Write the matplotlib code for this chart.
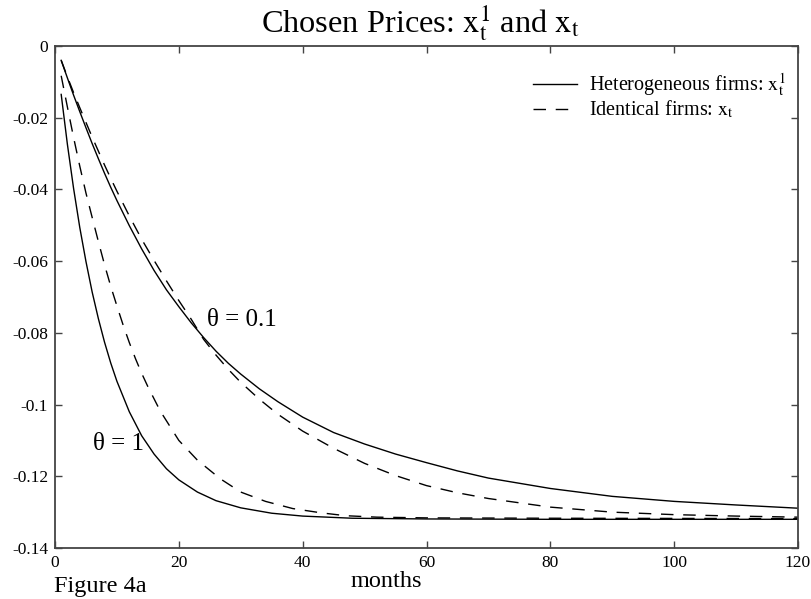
import numpy as np
import matplotlib
matplotlib.use('Agg')
import matplotlib.pyplot as plt

plt.rcParams['font.family'] = ['Liberation Serif', 'DejaVu Serif']
plt.rcParams['mathtext.fontset'] = 'stix'
plt.rcParams['axes.unicode_minus'] = False
plt.rcParams['lines.scale_dashes'] = False

# heterogeneous firms, theta = 0.1 (solid)
t_het01 = [1, 2, 3, 4, 5, 6, 7, 8, 9, 10, 12, 14, 16, 18, 20, 22, 24, 26, 28, 30,
           33, 36, 40, 45, 50, 55, 60, 65, 70, 80, 90, 100, 110, 120]
x_het01 = [-0.0040, -0.0089, -0.0137, -0.0183, -0.0228, -0.0272, -0.0314, -0.0355,
           -0.0394, -0.0431, -0.0501, -0.0566, -0.0626, -0.0680, -0.0727, -0.0772,
           -0.0813, -0.0851, -0.0885, -0.0915, -0.0956, -0.0992, -0.1035, -0.1078,
           -0.1110, -0.1138, -0.1162, -0.1185, -0.1205, -0.1234, -0.1256, -0.1270,
           -0.1280, -0.1289]

# identical firms, theta = 0.1 (dashed)
t_id01 = [1, 2, 3, 4, 5, 6, 7, 8, 9, 10, 12, 14, 16, 18, 20, 22, 24, 26, 28, 30,
          33, 36, 40, 45, 50, 55, 60, 65, 70, 80, 90, 100, 110, 120]
x_id01 = [-0.0040, -0.0086, -0.0130, -0.0172, -0.0213, -0.0254, -0.0293, -0.0332,
          -0.0369, -0.0405, -0.0474, -0.0539, -0.0598, -0.0655, -0.0710, -0.0762,
          -0.0818, -0.0862, -0.0902, -0.0938, -0.0985, -0.1027, -0.1074, -0.1122,
          -0.1164, -0.1198, -0.1226, -0.1246, -0.1262, -0.1286, -0.1300, -0.1307,
          -0.1311, -0.1314]

# heterogeneous firms, theta = 1 (solid)
t_het1 = [1, 2, 3, 4, 5, 6, 7, 8, 9, 10, 12, 14, 16, 18, 20, 23, 26, 30, 35, 40,
          48, 60, 80, 100, 120]
x_het1 = [-0.0135, -0.0274, -0.0397, -0.0506, -0.0601, -0.0686, -0.0760, -0.0826,
          -0.0884, -0.0935, -0.1020, -0.1087, -0.1138, -0.1179, -0.1210, -0.1244,
          -0.1268, -0.1288, -0.1303, -0.1311, -0.1317, -0.1319, -0.1320, -0.1320,
          -0.1320]

# identical firms, theta = 1 (dashed)
t_id1 = [1, 2, 3, 4, 5, 6, 7, 8, 9, 10, 11, 12, 13, 14, 15, 17, 20, 23, 26.7, 30,
         34, 38.4, 43, 47, 52, 60, 80, 120]
x_id1 = [-0.0083, -0.0170, -0.0255, -0.0335, -0.0410, -0.0478, -0.0545, -0.0610,
         -0.0670, -0.0725, -0.0778, -0.0827, -0.0872, -0.0913, -0.0950, -0.1018,
         -0.1100, -0.1155, -0.1207, -0.1244, -0.1270, -0.1290, -0.1302, -0.1310,
         -0.1314, -0.1316, -0.1317, -0.1318]

fig = plt.figure(figsize=(8.11, 5.99), dpi=100)
ax = fig.add_axes([55/811, 1-548/599, (798-55)/811, (548-46)/599])

ax.plot(t_het01, x_het01, color='black', lw=1.0, label=r'Heterogeneous firms: $\mathrm{x}_\mathrm{t}^1$')
ax.plot(t_id01, x_id01, color='black', lw=1.0, dashes=(9, 7), label=r'Identical firms: $\mathrm{x}_\mathrm{t}$')
ax.plot(t_het1, x_het1, color='black', lw=1.0)
ax.plot(t_id1, x_id1, color='black', lw=1.0, dashes=(9, 7))

ax.set_xlim(0, 120)
ax.set_ylim(-0.14, 0)
ax.set_xticks(np.arange(0, 121, 20))
ax.set_yticks(np.arange(-0.14, 0.001, 0.02))
ax.set_yticklabels(['-0.14', '-0.12', '-0.1', '-0.08', '-0.06', '-0.04', '-0.02', '0'])
ax.tick_params(direction='in', length=5, width=1, top=True, right=True,
               labelsize=12.5, color='#444444', pad=5)
for s in ax.spines.values():
    s.set_color('#444444')
    s.set_linewidth(1.3)

ax.set_xlabel('months', fontsize=17.5)
ax.xaxis.set_label_coords((386-55)/743, -0.045)
ax.set_title(r'Chosen Prices: $\mathrm{x}_\mathrm{t}^1$ and $\mathrm{x}_\mathrm{t}$', fontsize=23.3,
             x=(420-55)/743, pad=10)

ax.legend(loc='upper right', frameon=False, fontsize=14.5, handlelength=2.2,
          labelspacing=0.0, handletextpad=0.6, borderaxespad=0.0,
          bbox_to_anchor=(0.995, 0.965))

ax.text(30.2, -0.0763, 'θ = 0.1', fontsize=18, ha='center', va='center')
ax.text(10.2, -0.1109, 'θ = 1', fontsize=18, ha='center', va='center')

fig.text(54/811, 1-592/599, 'Figure 4a', fontsize=17.5, ha='left', va='baseline')

fig.savefig('out.png', dpi=100)
